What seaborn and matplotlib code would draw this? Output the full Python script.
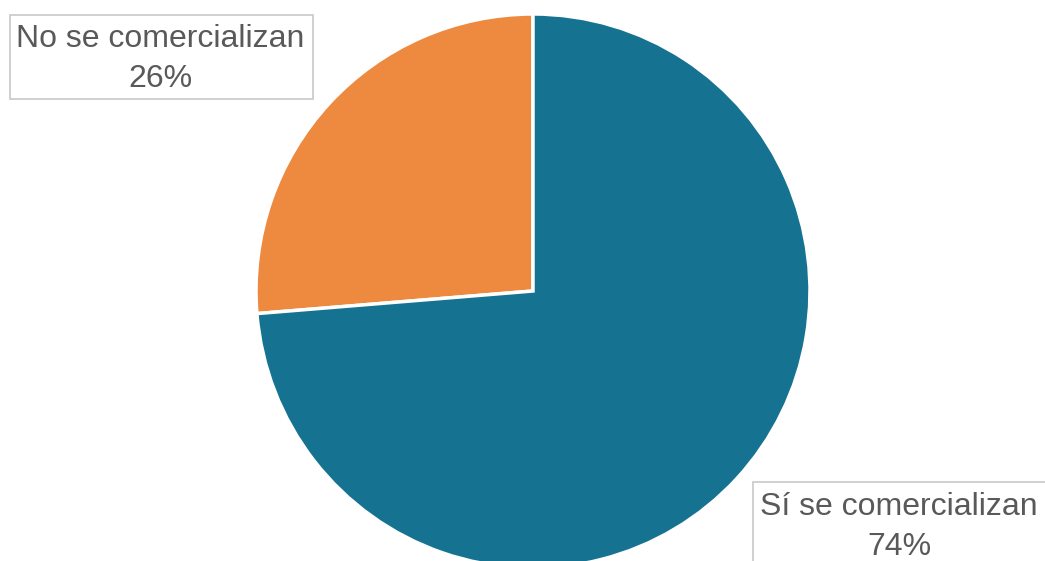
import matplotlib
matplotlib.use("Agg")
import matplotlib.pyplot as plt
import seaborn as sns
from matplotlib.patches import Rectangle

categories = ["No se comercializan", "Sí se comercializan"]
values = [26.3, 73.7]
colors = ["#EE8A40", "#167291"]

sns.set_theme(style="white")
plt.rcParams['font.family'] = ['Liberation Sans', 'DejaVu Sans']

W, H = 1045, 561
fig = plt.figure(figsize=(W / 100, H / 100), dpi=100)
ax = fig.add_axes([0, 0, 1, 1])

ax.pie(values, colors=colors, startangle=90, counterclock=True,
       center=(533, H - 291), radius=277, frame=True,
       wedgeprops=dict(edgecolor='white', linewidth=2.5))
ax.set_xlim(0, W)
ax.set_ylim(0, H)
ax.set_aspect('equal')
ax.axis('off')

label_texts = [f"{c}\n{round(v):.0f}%" for c, v in zip(categories, values)]
boxes = [(10, H - 99, 303, 84), (753, H - 482 - 100, 320, 100)]
centers = [(160, H - 59), (899, H - 527)]
for txt, (bx, by, bw, bh), (cx, cy) in zip(label_texts, boxes, centers):
    ax.add_patch(Rectangle((bx, by), bw, bh, facecolor='white',
                           edgecolor='#C8C8C8', linewidth=1.2, zorder=3))
    ax.text(cx, cy, txt, ha='center', va='center', fontsize=23,
            color='#595959', linespacing=1.4, zorder=4)

fig.savefig("out.png", dpi=100)
